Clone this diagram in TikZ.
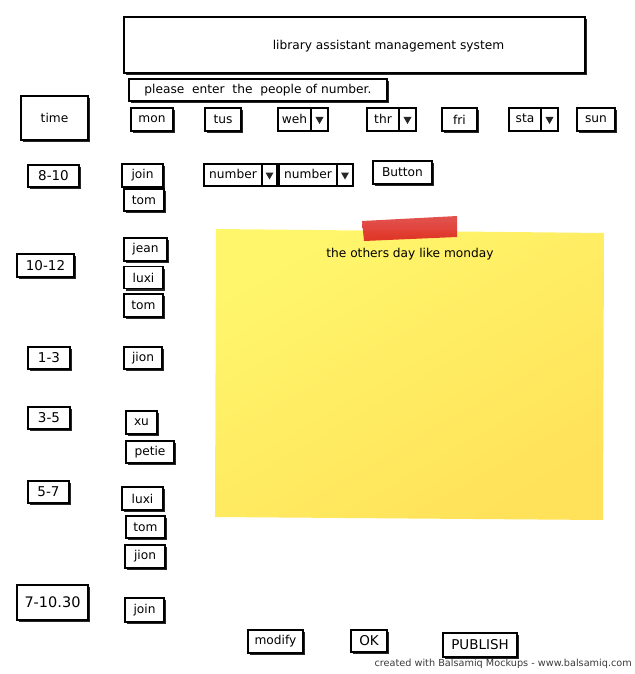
\documentclass[tikz,border=0pt]{standalone}
\usepackage{fontspec}
\setmainfont{DejaVu Sans}
\usetikzlibrary{shadows}
\definecolor{stickyA}{HTML}{FFF66C}
\definecolor{stickyB}{HTML}{FFE259}
\definecolor{tapeA}{HTML}{E04A45}
\definecolor{tapeB}{HTML}{DE2A22}
\definecolor{foot}{HTML}{3A3A3A}
\begin{document}
\begin{tikzpicture}[x=1pt,y=-1pt,
  txt/.style={font=\fontsize{12.2}{14}\selectfont, inner sep=0pt},
  big/.style={font=\fontsize{13.5}{15}\selectfont},
  btn/.style={draw, line width=1.3pt, fill=white, txt,
    drop shadow={shadow xshift=2.2pt, shadow yshift=-2.2pt, fill=black!85, opacity=1}},
  sz/.style 2 args={minimum width=#1pt, minimum height=#2pt},
  dd/.style={draw, line width=1.1pt, fill=white, inner sep=0pt,
    drop shadow={shadow xshift=1.2pt, shadow yshift=-1.2pt, fill=black!70, opacity=1}},
  ddline/.style={line width=1.1pt},
  tri/.style={fill=black!85}]
\useasboundingbox (0,0) rectangle (634,674);

% sticky note
\shade[top color=stickyA, bottom color=stickyB, shading angle=30]
  (216,229) -- (604,233) -- (603,520) -- (215,517) -- cycle;
\shade[top color=tapeA, bottom color=tapeB, opacity=0.95]
  (362,221) -- (457,216) -- (457,237) -- (364,241) -- cycle;
\node[txt] (note) at (410,254) {the others day like monday};

% title
\node[btn, sz={461}{56}] (title) at (354.5,45) {};
\node[txt] (titletext) at (388.5,46) {library assistant management system};
\node[btn, sz={258}{22}] (please) at (258,90) {please\ \ enter\ \ the\ \ people of number.};

% header row
\node[btn, sz={67}{44}] (time) at (54.5,118) {time};
\node[btn, sz={42}{23}] (mon) at (152,119.5) {mon};
\node[btn, sz={36}{23}] (tus) at (223,119.5) {tus};
\node[dd, sz={50}{23}] (weh) at (303,119.5) {};
\draw[ddline] (311,108) -- (311,131);
\node[txt] (wehtext) at (294.5,118.5) {weh};
\fill[tri] (315.5,117) -- (323.5,117) -- (319.5,124) -- cycle;
\node[dd, sz={49}{23}] (thr) at (391.5,119.5) {};
\draw[ddline] (399,108) -- (399,131);
\node[txt] (thrtext) at (383,118.5) {thr};
\fill[tri] (403.5,117) -- (411.5,117) -- (407.5,124) -- cycle;
\node[btn, sz={35}{23}] (fri) at (459.5,119.5) {fri};
\node[dd, sz={49}{23}] (sta) at (533.5,119.5) {};
\draw[ddline] (541,108) -- (541,131);
\node[txt] (statext) at (525,118.5) {sta};
\fill[tri] (545.5,117) -- (553.5,117) -- (549.5,124) -- cycle;
\node[btn, sz={38}{23}] (sun) at (596,119.5) {sun};

% number dropdowns and button
\node[dd, sz={73}{22}] (num1) at (240.5,175) {};
\draw[ddline] (262,164) -- (262,186);
\node[txt] (num1text) at (233,174) {number};
\fill[tri] (265.5,172.5) -- (273.5,172.5) -- (269.5,179.5) -- cycle;
\node[dd, sz={74}{22}] (num2) at (316,175) {};
\draw[ddline] (337,164) -- (337,186);
\node[txt] (num2text) at (308,174) {number};
\fill[tri] (341,172.5) -- (349,172.5) -- (345,179.5) -- cycle;
\node[btn, sz={59}{23}] (button) at (402.5,172.5) {Button};

% time slots
\node[btn, big, sz={51}{22}] (t810) at (53.5,176) {8-10};
\node[btn, big, sz={57}{23}] (t1012) at (45.5,265.5) {10-12};
\node[btn, big, sz={42}{22}] (t13) at (49,358) {1-3};
\node[btn, big, sz={42}{22}] (t35) at (49,418) {3-5};
\node[btn, big, sz={41}{22}] (t57) at (48.5,492) {5-7};
\node[btn, big, font=\fontsize{14.5}{16}\selectfont, sz={71}{35}] (t71030) at (52.5,602.5) {7-10.30};

% people
\node[btn, sz={41}{23}] (join1) at (142.5,175.5) {join};
\node[btn, sz={40}{22}] (tom1) at (144,200) {tom};
\node[btn, sz={43}{23}] (jean) at (145.5,249.5) {jean};
\node[btn, sz={39}{22}] (luxi1) at (143.5,277.5) {luxi};
\node[btn, sz={39}{23}] (tom2) at (143.5,305.5) {tom};
\node[btn, sz={38}{22}] (jion1) at (143,358) {jion};
\node[btn, sz={31}{23}] (xu) at (141.5,422.5) {xu};
\node[btn, sz={48}{22}] (petie) at (150,452) {petie};
\node[btn, sz={41}{23}] (luxi2) at (142.5,498.5) {luxi};
\node[btn, sz={39}{22}] (tom3) at (145.5,527) {tom};
\node[btn, sz={40}{23}] (jion2) at (145,556.5) {jion};
\node[btn, sz={39}{24}] (join2) at (144.5,610) {join};

% bottom buttons
\node[btn, sz={55}{23}] (modify) at (275.5,641.5) {modify};
\node[btn, big, sz={36}{22}] (ok) at (369,641) {OK};
\node[btn, big, sz={74}{24}] (publish) at (480,645) {PUBLISH};

\node[anchor=east, inner sep=0pt, font=\fontsize{9.7}{12}\selectfont, text=foot] (credit) at (632,664)
  {created with Balsamiq Mockups - www.balsamiq.com};
\end{tikzpicture}
\end{document}
